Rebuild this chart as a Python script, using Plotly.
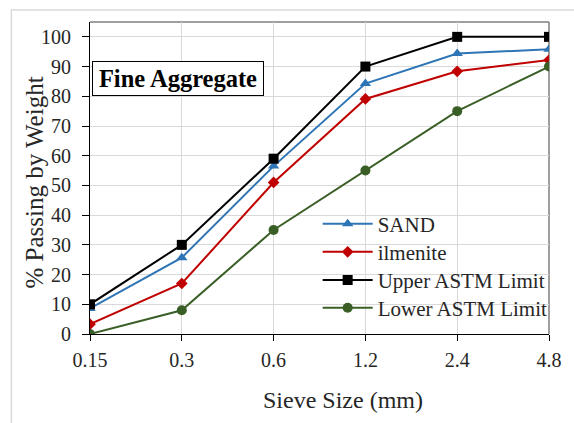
import plotly.graph_objects as go

# Sieve sizes (mm) and cumulative % passing for each gradation curve
sieve_sizes = ["0.15", "0.3", "0.6", "1.2", "2.4", "4.8"]
sand = [8.6, 25.7, 56.5, 84.3, 94.4, 95.8]
ilmenite = [3.3, 17.0, 51.0, 79.1, 88.4, 92.2]
upper_astm = [10, 30, 59, 90, 100, 100]
lower_astm = [0, 8, 35, 55, 75, 90]
y_ticks = [0, 10, 20, 30, 40, 50, 60, 70, 80, 90, 100]

FONT = "Liberation Serif"
TEXT = "#262626"

# name, values, colour, marker symbol, marker size, legend id, legend top (paper y)
series = [
    ("SAND", sand, "#2e75b6", "triangle-up", 10, "legend", 0.418),
    ("ilmenite", ilmenite, "#c00000", "diamond", 9, "legend2", 0.328),
    ("Upper ASTM Limit", upper_astm, "#000000", "square", 10, "legend3", 0.238),
    ("Lower ASTM Limit", lower_astm, "#3a5f26", "circle", 10, "legend4", 0.149),
]

fig = go.Figure()
legend_layout = {}
for name, vals, color, symbol, size, leg, leg_y in series:
    fig.add_trace(go.Scatter(
        x=sieve_sizes, y=vals, name=name, mode="lines+markers",
        line=dict(color=color, width=2),
        marker=dict(symbol=symbol, size=size, color=color),
        legend=leg,
    ))
    legend_layout[leg] = dict(
        x=0.496, y=leg_y, xanchor="left", yanchor="top",
        bgcolor="rgba(0,0,0,0)", borderwidth=0,
        font=dict(family=FONT, size=21, color=TEXT),
        itemwidth=50,
    )

fig.update_layout(
    width=574, height=423,
    margin=dict(l=90, r=17, t=22, b=89),
    paper_bgcolor="white", plot_bgcolor="white",
    font=dict(family=FONT, size=20, color=TEXT),
    showlegend=True,
    **legend_layout,
    xaxis=dict(
        type="category", range=[0, 5],
        showgrid=True, gridcolor="#d9d9d9", gridwidth=1,
        showline=True, linecolor="black", linewidth=1,
        ticks="outside", ticklen=6, tickcolor="black",
        ticklabelstandoff=2,
        tickfont=dict(family=FONT, size=20, color=TEXT),
    ),
    yaxis=dict(
        range=[0, 105], tickvals=y_ticks,
        showgrid=True, gridcolor="#d9d9d9", gridwidth=1,
        showline=True, linecolor="black", linewidth=1,
        ticks="outside", ticklen=7, tickcolor="black",
        ticklabelstandoff=7,
        tickfont=dict(family=FONT, size=20, color=TEXT),
        zeroline=False,
    ),
    shapes=[
        # chart-area border
        dict(type="rect", xref="paper", yref="paper",
             x0=-0.1713, x1=1.06, y0=-0.32, y1=1.0385,
             line=dict(color="#d9d9d9", width=1.5), layer="below"),
        # plot-area frame (top and right)
        dict(type="line", xref="x domain", yref="y domain",
             x0=0, x1=1, y0=1, y1=1,
             line=dict(color="#7f7f7f", width=1.5), layer="below"),
        dict(type="line", xref="x domain", yref="y domain",
             x0=1, x1=1, y0=0, y1=1,
             line=dict(color="#7f7f7f", width=1.5), layer="below"),
    ],
    annotations=[
        dict(text="<b>Fine Aggregate</b>", xref="paper", yref="paper",
             x=0.1927, y=0.819, xanchor="center", yanchor="middle",
             showarrow=False, bordercolor="black", borderwidth=1,
             borderpad=0, width=170, height=33, bgcolor="white",
             font=dict(family=FONT, size=24.5, color="black")),
        # axis titles
        dict(text="Sieve Size (mm)", xref="paper", yref="paper",
             x=0.5514, y=-0.2115, xanchor="center", yanchor="middle",
             showarrow=False, font=dict(family=FONT, size=24, color=TEXT)),
        dict(text="% Passing by Weight", xref="paper", yref="paper",
             x=-0.121, y=0.487, xanchor="center", yanchor="middle",
             textangle=-90, showarrow=False,
             font=dict(family=FONT, size=25, color=TEXT)),
    ],
)

fig.write_html("out.html")
